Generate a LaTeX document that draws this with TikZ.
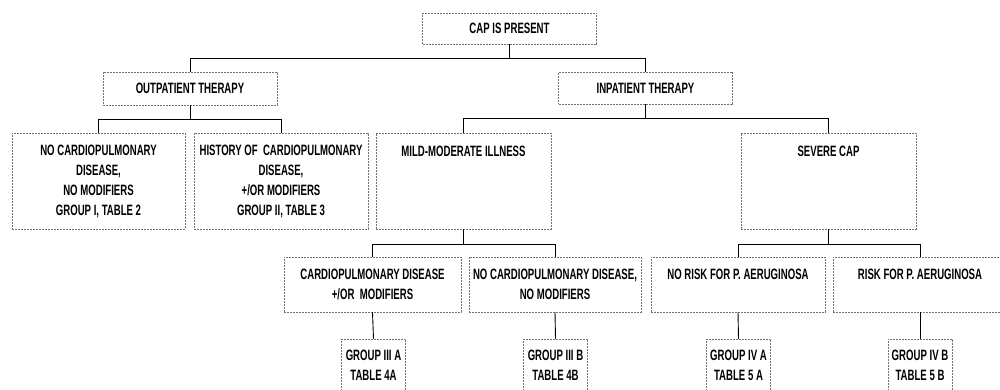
\documentclass[tikz,border=0pt]{standalone}
\usepackage{fontspec}
\setmainfont{Liberation Sans}[FakeStretch=0.64]
\usetikzlibrary{positioning}

\begin{document}
\begin{tikzpicture}
    [x=1pt, y=-1pt,
     bx/.style={rectangle, draw=black!55, line width=0.5pt, dash pattern=on 2pt off 1pt,
                minimum width=174pt, inner sep=2pt, align=center,
                font=\fontsize{15}{20}\selectfont\bfseries},
     sm/.style={bx, minimum width=64pt, minimum height=53pt},
     ln/.style={draw=black, line width=0.9pt}]

    \path [use as bounding box, clip] (0,0) rectangle (1000,389);

    \node [bx, minimum height=31pt] (cap) at (509.5,28.5) {CAP IS PRESENT};

    \node [bx, minimum height=33pt] (out) at (190,88.5) {OUTPATIENT THERAPY};
    \node [bx, minimum height=32pt] (inp) at (645.5,88) {INPATIENT THERAPY};

    \node [bx, minimum height=96pt, minimum width=173pt] (nocp) at (98.5,181) {
    NO CARDIOPULMONARY\\ DISEASE,\\ NO MODIFIERS\\ GROUP I, TABLE 2
    };
    \node [bx, minimum height=96pt] (hist) at (281,181) {
    HISTORY OF\ \ CARDIOPULMONARY\\ DISEASE,\\ +/OR MODIFIERS\\ GROUP II, TABLE 3
    };
    \node [bx, minimum height=96pt, minimum width=175pt] (mild) at (463.5,181) {
    MILD-MODERATE ILLNESS\\ \mbox{}\\ \mbox{}\\ \mbox{}
    };
    \node [bx, minimum height=96pt, minimum width=175pt] (sev) at (828.5,181) {
    SEVERE CAP\\ \mbox{}\\ \mbox{}\\ \mbox{}
    };

    \node [bx, minimum height=55pt, minimum width=177pt] (cpd) at (372.5,284.5) {
    CARDIOPULMONARY DISEASE\\ +/OR\ \ MODIFIERS
    };
    \node [bx, minimum height=55pt, minimum width=172pt] (nocpd) at (555,284.5) {
    NO CARDIOPULMONARY DISEASE,\\ NO MODIFIERS
    };
    \node [bx, minimum height=55pt] (norisk) at (738,284.5) {
    NO RISK FOR P. AERUGINOSA\\ \mbox{}
    };
    \node [bx, minimum height=55pt] (risk) at (920,284.5) {
    RISK FOR P. AERUGINOSA\\ \mbox{}
    };

    \node [sm] (g3a) at (373.5,365.5) {GROUP III A\\ TABLE 4A};
    \node [sm] (g3b) at (555.5,365.5) {GROUP III B\\ TABLE 4B};
    \node [sm] (g4a) at (738.5,365.5) {GROUP IV A\\ TABLE 5 A};
    \node [sm] (g4b) at (920,365.5) {GROUP IV B\\ TABLE 5 B};

    \draw [ln] (cap.south) -- ++(0,14) -| (out.north);
    \draw [ln] (cap.south) ++(0,14) -| (inp.north);

    \draw [ln] (out.south) -- ++(0,14) -| (nocp.north);
    \draw [ln] (out.south) ++(0,14) -| (hist.north);

    \draw [ln] (inp.south) -- ++(0,14) -| (mild.north);
    \draw [ln] (inp.south) ++(0,14) -| (sev.north);

    \draw [ln] (mild.south) -- ++(0,15) -| (cpd.north);
    \draw [ln] (mild.south) ++(0,15) -| (nocpd.north);

    \draw [ln] (sev.south) -- ++(0,15) -| (norisk.north);
    \draw [ln] (sev.south) ++(0,15) -| (risk.north);

    \draw [ln] (cpd.south) -- (g3a.north);
    \draw [ln] (nocpd.south) -- (g3b.north);
    \draw [ln] (norisk.south) -- (g4a.north);
    \draw [ln] (risk.south) -- (g4b.north);
\end{tikzpicture}
\end{document}
